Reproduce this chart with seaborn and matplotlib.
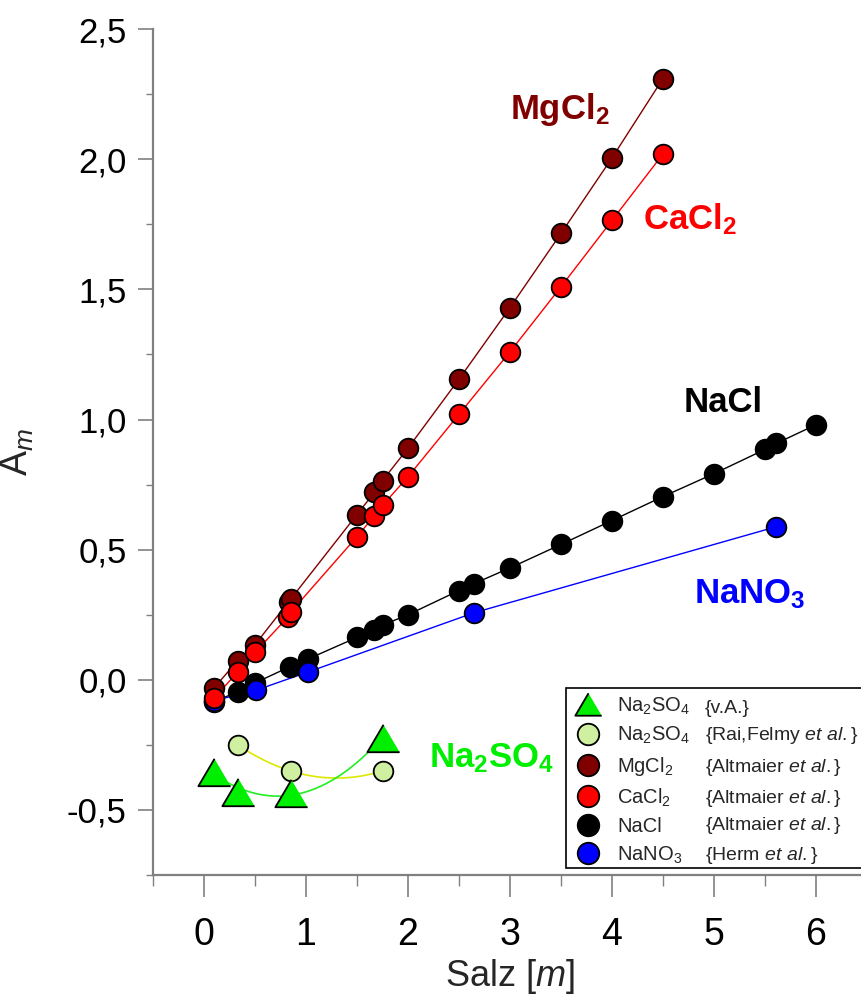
import numpy as np
import seaborn as sns
import matplotlib.pyplot as plt
from matplotlib.ticker import MultipleLocator, FuncFormatter
from matplotlib.lines import Line2D
from matplotlib.patches import Rectangle

sns.set_theme(style="white")
plt.rcParams['font.family'] = ['Liberation Sans', 'DejaVu Sans']
plt.rcParams['mathtext.fontset'] = 'custom'
plt.rcParams['mathtext.rm'] = 'Liberation Sans'
plt.rcParams['mathtext.it'] = 'Liberation Sans:italic'
plt.rcParams['mathtext.bf'] = 'Liberation Sans:bold'

# ---- data: A_m versus salt molality ----
mgcl2_m = [0.10, 0.33, 0.50, 0.83, 0.85, 1.50, 1.67, 1.75, 2.00, 2.50, 3.00, 3.50, 4.00, 4.50]
mgcl2_a = [-0.03, 0.073, 0.135, 0.30, 0.31, 0.635, 0.72, 0.765, 0.89, 1.155, 1.43, 1.715, 2.005, 2.31]

cacl2_m = [0.10, 0.33, 0.50, 0.82, 0.85, 1.50, 1.67, 1.75, 2.00, 2.50, 3.00, 3.50, 4.00, 4.50]
cacl2_a = [-0.07, 0.03, 0.105, 0.24, 0.26, 0.55, 0.63, 0.67, 0.78, 1.02, 1.26, 1.51, 1.765, 2.02]

nacl_m = [0.10, 0.33, 0.50, 0.84, 1.02, 1.50, 1.67, 1.75, 2.00, 2.50, 2.65, 3.00,
          3.50, 4.00, 4.50, 5.00, 5.50, 5.61, 6.00]
nacl_a = [-0.085, -0.045, -0.012, 0.05, 0.08, 0.163, 0.19, 0.21, 0.25, 0.343, 0.37, 0.43,
          0.52, 0.612, 0.704, 0.792, 0.885, 0.908, 0.98]

nano3_m = [0.10, 0.51, 1.02, 2.65, 5.61]
nano3_a = [-0.08, -0.04, 0.03, 0.258, 0.588]

na2so4_va_m = [0.10, 0.33, 0.85, 1.75]
na2so4_va_a = [-0.353, -0.431, -0.435, -0.222]

na2so4_rai_m = [0.33, 0.85, 1.75]
na2so4_rai_a = [-0.25, -0.35, -0.35]

# ---- colours ----
C_MG = '#800000'
C_CA = '#ff0000'
C_NA = '#000000'
C_NO3 = '#0000ff'
C_TRI = '#00ee00'
C_RAI = '#cff0a0'
C_TRI_LINE = '#22ee22'
C_RAI_LINE = '#dde800'

fig = plt.figure(figsize=(8.61, 9.98), dpi=100)
ax = fig.add_axes([0.1777, 0.1232, 0.8293, 0.8477])

tri = [(0, 0.85), (-1, -0.85), (1, -0.85)]
circ_s = 200
tri_s = 540

# connecting lines
for xs, ys, col in [(nacl_m, nacl_a, C_NA), (nano3_m, nano3_a, C_NO3),
                    (mgcl2_m, mgcl2_a, C_MG), (cacl2_m, cacl2_a, C_CA)]:
    sns.lineplot(x=xs, y=ys, color=col, lw=1.0, sort=True, estimator=None,
                 ax=ax, zorder=2)

# quadratic fits for the sulfate series
for xs, ys, col in [(na2so4_rai_m, na2so4_rai_a, C_RAI_LINE),
                    (na2so4_va_m, na2so4_va_a, C_TRI_LINE)]:
    coef = np.polyfit(xs, ys, 2)
    xx = np.linspace(min(xs), max(xs), 200)
    sns.lineplot(x=xx, y=np.polyval(coef, xx), color=col, lw=1.2,
                 estimator=None, ax=ax, zorder=2)

# markers
z = 3
for xs, ys, col in [(nacl_m, nacl_a, C_NA), (nano3_m, nano3_a, C_NO3),
                    (mgcl2_m, mgcl2_a, C_MG), (cacl2_m, cacl2_a, C_CA),
                    (na2so4_rai_m, na2so4_rai_a, C_RAI)]:
    sns.scatterplot(x=xs, y=ys, color=col, s=circ_s, edgecolor='black',
                    linewidth=1.3, ax=ax, zorder=z, legend=False)
    z += 1
sns.scatterplot(x=na2so4_va_m, y=na2so4_va_a, color=C_TRI, marker=tri, s=tri_s,
                edgecolor='black', linewidth=1.3, ax=ax, zorder=z, legend=False)

# ---- axes ----
ax.set_xlim(-0.5, 6.5)
ax.set_ylim(-0.75, 2.5)
ax.xaxis.set_major_locator(MultipleLocator(1))
ax.xaxis.set_minor_locator(MultipleLocator(0.5))
ax.yaxis.set_major_locator(MultipleLocator(0.5))
ax.yaxis.set_minor_locator(MultipleLocator(0.25))
ax.yaxis.set_major_formatter(FuncFormatter(lambda v, p: f"{v:.1f}".replace('.', ',')))
ax.xaxis.set_major_formatter(FuncFormatter(lambda v, p: f"{v:.0f}"))

for side in ['top', 'right']:
    ax.spines[side].set_visible(False)
for side in ['left', 'bottom']:
    ax.spines[side].set_color('#808080')
    ax.spines[side].set_linewidth(1.6)

ax.tick_params(axis='y', which='major', direction='out', length=11, width=1.2,
               color='#808080', labelsize=25, labelcolor='black', pad=8, left=True)
ax.tick_params(axis='y', which='minor', direction='out', length=5, width=1.0,
               color='#808080', left=True)
ax.tick_params(axis='x', which='major', direction='out', length=16, width=1.2,
               color='#808080', labelsize=27, labelcolor='black', pad=14, bottom=True)
ax.tick_params(axis='x', which='minor', direction='out', length=8, width=1.0,
               color='#808080', bottom=True)

ax.set_xlabel(r"Salz [$\mathit{m}$]", fontsize=26, labelpad=3)
ax.set_ylabel(r"A$_{\mathit{m}}$", fontsize=27, labelpad=22)

# ---- series labels ----
lab_kw = dict(fontsize=25, fontweight='bold', ha='center', va='center')
ax.text(3.49, 2.19, r"MgCl$_\mathbf{2}$", color=C_MG, **lab_kw)
ax.text(4.76, 1.77, r"CaCl$_\mathbf{2}$", color=C_CA, **lab_kw)
ax.text(5.09, 1.065, "NaCl", color=C_NA, **lab_kw)
ax.text(5.35, 0.33, r"NaNO$_\mathbf{3}$", color=C_NO3, **lab_kw)
ax.text(2.82, -0.30, r"Na$_\mathbf{2}$SO$_\mathbf{4}$", color=C_TRI, **lab_kw)

# ---- legend ----
names = [r"Na$_2$SO$_4$", r"Na$_2$SO$_4$", r"MgCl$_2$", r"CaCl$_2$", "NaCl", r"NaNO$_3$"]
refs = [r"{v.A.}", r"{Rai,Felmy $\mathit{et\ al.}$}", r"{Altmaier $\mathit{et\ al.}$}",
        r"{Altmaier $\mathit{et\ al.}$}", r"{Altmaier $\mathit{et\ al.}$}",
        r"{Herm $\mathit{et\ al.}$}"]
handles = [Line2D([], [], ls='', marker=tri, ms=19, mfc=C_TRI, mec='black', mew=1.3)]
for col in [C_RAI, C_MG, C_CA, C_NA, C_NO3]:
    handles.append(Line2D([], [], ls='', marker='o', ms=15.5, mfc=col, mec='black', mew=1.3))

leg = ax.legend(handles, names, loc='upper left', bbox_to_anchor=(0.578, 0.222),
                fontsize=14.5, frameon=False, handlelength=1.4, handletextpad=0.75,
                labelspacing=0.42, borderpad=0.4, borderaxespad=0.0)
leg.set_zorder(20)

fig.canvas.draw()
inv = fig.transFigure.inverted()
ref_x = 705 / 861
for t, ref in zip(leg.get_texts(), refs):
    bb = t.get_window_extent()
    y0 = inv.transform((0, bb.y0))[1]
    ax.text(ref_x, y0, ref, fontsize=14.0, ha='left', va='bottom', zorder=21,
            transform=fig.transFigure, clip_on=False)

frame = Rectangle((566 / 861, (998 - 868) / 998), 0.5, (868 - 688) / 998,
                  transform=fig.transFigure, facecolor='white', edgecolor='black',
                  linewidth=1.2, zorder=19, clip_on=False)
ax.add_patch(frame)

fig.savefig('out.png', dpi=100)
